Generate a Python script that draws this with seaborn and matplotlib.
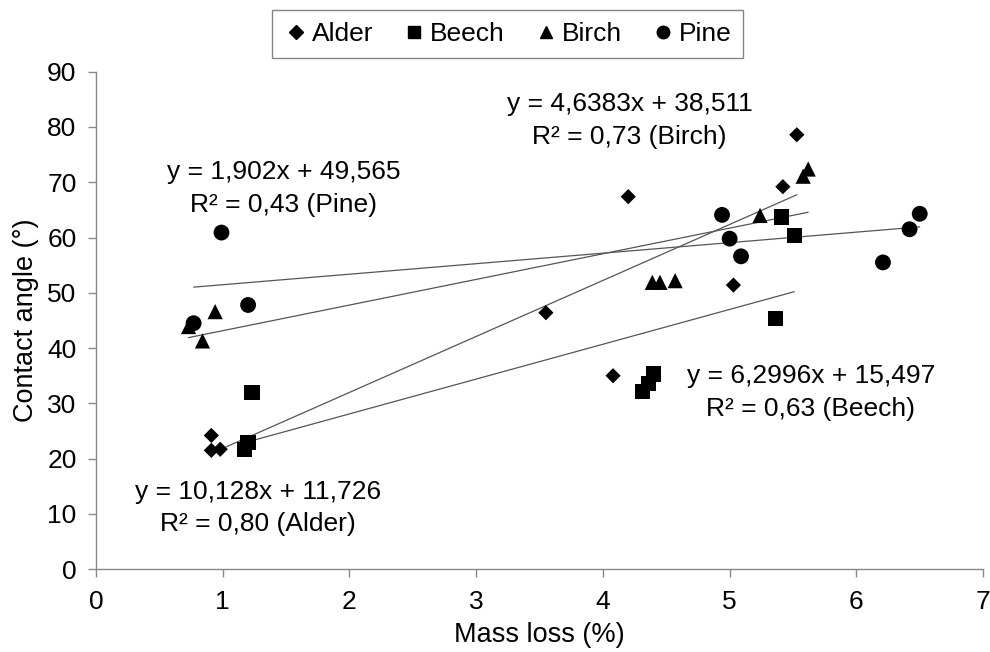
import numpy as np
import pandas as pd
import seaborn as sns
import matplotlib.pyplot as plt
from matplotlib.lines import Line2D

# values
alder_x = [0.91, 0.91, 0.98, 3.55, 4.08, 4.20, 5.03, 5.42, 5.53]
alder_y = [24.2, 21.5, 21.7, 46.4, 35.0, 67.4, 51.4, 69.2, 78.6]
beech_x = [1.17, 1.20, 1.23, 4.31, 4.36, 4.40, 5.36, 5.41, 5.51]
beech_y = [21.7, 22.9, 31.9, 32.2, 33.6, 35.3, 45.3, 63.7, 60.4]
birch_x = [0.73, 0.84, 0.94, 4.39, 4.45, 4.57, 5.24, 5.58, 5.62]
birch_y = [43.9, 41.3, 46.6, 51.9, 51.9, 52.2, 64.0, 71.1, 72.4]
pine_x = [0.77, 0.99, 1.20, 4.94, 5.00, 5.09, 6.21, 6.42, 6.50]
pine_y = [44.5, 60.9, 47.8, 64.1, 59.8, 56.6, 55.5, 61.5, 64.3]

species = ["Alder", "Beech", "Birch", "Pine"]
slopes = [10.128, 6.2996, 4.6383, 1.902]
intercepts = [11.726, 15.497, 38.511, 49.565]
r2 = ["0,80", "0,63", "0,73", "0,43"]
eq_text = ["y = 10,128x + 11,726", "y = 6,2996x + 15,497",
           "y = 4,6383x + 38,511", "y = 1,902x + 49,565"]

df = pd.concat([
    pd.DataFrame({"x": alder_x, "y": alder_y, "Species": "Alder"}),
    pd.DataFrame({"x": beech_x, "y": beech_y, "Species": "Beech"}),
    pd.DataFrame({"x": birch_x, "y": birch_y, "Species": "Birch"}),
    pd.DataFrame({"x": pine_x, "y": pine_y, "Species": "Pine"}),
], ignore_index=True)

sns.set_style("ticks")
plt.rcParams['font.family'] = ['Liberation Sans', 'DejaVu Sans']
plt.rcParams['text.color'] = 'black'
plt.rcParams['axes.labelcolor'] = 'black'

fig = plt.figure(figsize=(9.9, 6.52), dpi=100)
ax = fig.add_axes([0.097, 0.127, 0.896, 0.763])

markers = {"Alder": "D", "Beech": "s", "Birch": "^", "Pine": "o"}
sizes = {"Alder": 60, "Beech": 120, "Birch": 120, "Pine": 130}
for sp in species:
    sub = df[df.Species == sp]
    sns.scatterplot(data=sub, x="x", y="y", marker=markers[sp], s=sizes[sp],
                    color="black", edgecolor="none", ax=ax, zorder=3, legend=False)

# trend lines from the printed equations, over each species' range
for sp, a, b in zip(species, slopes, intercepts):
    sub = df[df.Species == sp]
    xs = np.array([sub.x.min(), sub.x.max()])
    sns.lineplot(x=xs, y=a * xs + b, color="#555555", linewidth=0.9, ax=ax, zorder=2)

# equation labels
label_pos = {"Alder": (1.28, 11.1), "Beech": (5.64, 32.0), "Birch": (4.21, 81.2), "Pine": (1.48, 68.9)}
for sp, eq, r in zip(species, eq_text, r2):
    tx, ty = label_pos[sp]
    ax.text(tx, ty, eq + "\nR² = " + r + " (" + sp + ")", ha="center", va="center",
            fontsize=19, linespacing=1.45, color="black")

ax.set_xlim(0, 7)
ax.set_ylim(0, 90)
ax.set_xticks(range(0, 8))
ax.set_yticks(range(0, 91, 10))
ax.tick_params(labelsize=19, color="#888888", labelcolor="black", length=6, width=1)
ax.tick_params(axis="x", pad=9)
ax.tick_params(axis="y", pad=8)
ax.set_xlabel("Mass loss (%)", fontsize=19.5, labelpad=6)
ax.set_ylabel("Contact angle (°)", fontsize=19.5, labelpad=6)
for s in ["top", "right"]:
    ax.spines[s].set_visible(False)
for s in ["left", "bottom"]:
    ax.spines[s].set_color("#888888")
    ax.spines[s].set_linewidth(1)

handles = [Line2D([], [], marker=markers[sp], color="black", linestyle="none",
                  markersize=7 if sp == "Alder" else 9) for sp in species]
leg = fig.legend(handles, species, loc="center", bbox_to_anchor=(0.513, 0.948), ncol=4,
                 fontsize=19, frameon=True, fancybox=False, handletextpad=0.15,
                 columnspacing=1.1, borderpad=0.45, handlelength=0.9)
leg.get_frame().set_edgecolor("#666666")
leg.get_frame().set_linewidth(1)

fig.savefig("out.png", dpi=100)
